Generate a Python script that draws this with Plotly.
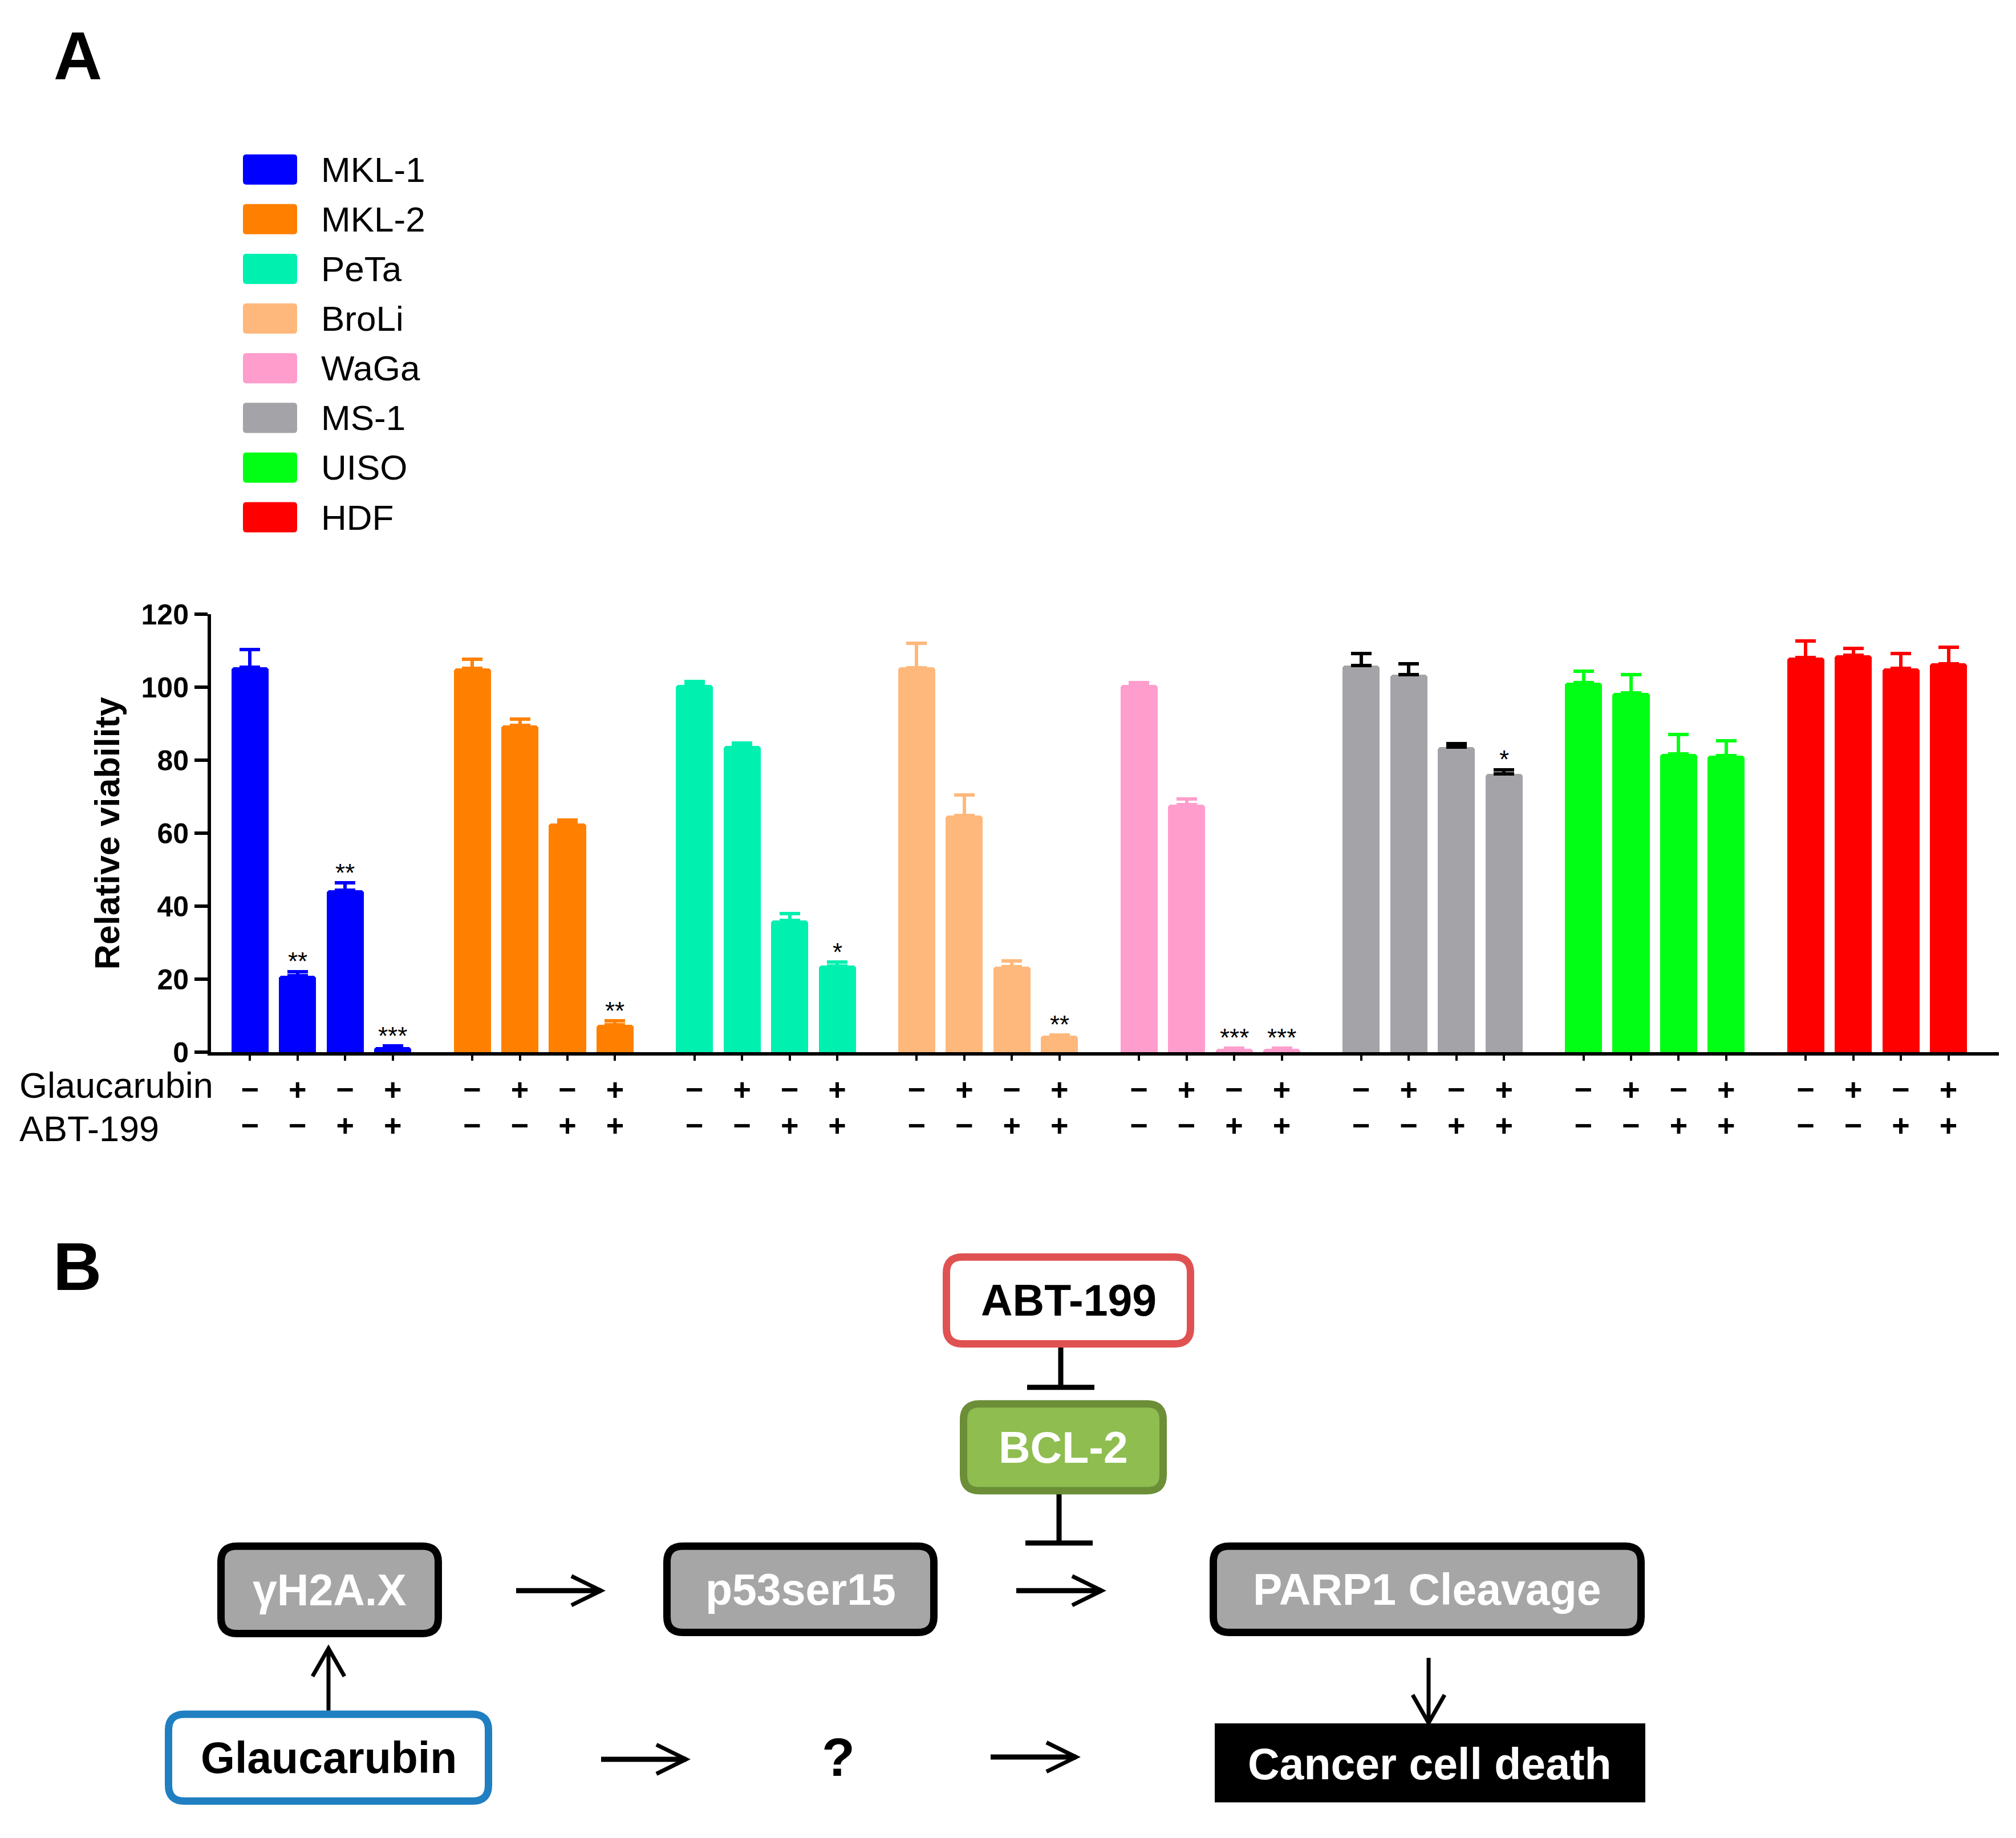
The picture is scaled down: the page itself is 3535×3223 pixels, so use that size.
import plotly.graph_objects as go

# ---------------- data ----------------
cell_lines = ["MKL-1", "MKL-2", "PeTa", "BroLi", "WaGa", "MS-1", "UISO", "HDF"]
glaucarubin = ["−", "+", "−", "+"]
abt199 = ["−", "−", "+", "+"]
y_ticks = [0, 20, 40, 60, 80, 100, 120]

mkl1 = [105.5, 21.0, 44.4, 1.4]
mkl2 = [105.1, 89.5, 62.7, 7.5]
peta = [100.6, 83.9, 36.1, 23.7]
broli = [105.4, 64.9, 23.4, 4.5]
waga = [100.6, 67.9, 1.0, 1.0]
ms1 = [106.0, 103.5, 83.6, 76.3]
uiso = [101.3, 98.4, 81.7, 81.2]
hdf = [108.1, 108.8, 105.1, 106.5]

mkl1_err = [4.8, 1.1, 2.0, 0.3]
mkl2_err = [2.5, 1.8, 0.9, 1.1]
peta_err = [1.0, 0.8, 1.9, 1.0]
broli_err = [6.7, 5.6, 1.7, 0.3]
waga_err = [0.7, 1.5, 0.2, 0.2]
ms1_err = [3.2, 3.0, 1.0, 1.1]
uiso_err = [3.1, 5.1, 5.4, 4.2]
hdf_err = [4.5, 1.8, 4.2, 4.5]

mkl1_sig = ["", "**", "**", "***"]
mkl2_sig = ["", "", "", "**"]
peta_sig = ["", "", "", "*"]
broli_sig = ["", "", "", "**"]
waga_sig = ["", "", "***", "***"]
ms1_sig = ["", "", "", "*"]
uiso_sig = ["", "", "", ""]
hdf_sig = ["", "", "", ""]

means = [mkl1, mkl2, peta, broli, waga, ms1, uiso, hdf]
errors = [mkl1_err, mkl2_err, peta_err, broli_err, waga_err, ms1_err, uiso_err, hdf_err]
sigs = [mkl1_sig, mkl2_sig, peta_sig, broli_sig, waga_sig, ms1_sig, uiso_sig, hdf_sig]

# ---------------- styles ----------------
bar_colors = ["#0000ff", "#ff8000", "#00f0b0", "#ffb87b", "#ff9ecd", "#a4a3a8", "#00ff14", "#ff0000"]
err_colors = ["#0000ff", "#ff8000", "#00f0b0", "#ffb87b", "#ff9ecd", "#000000", "#00ff14", "#ff0000"]

ARIAL = "Arial, Liberation Sans, sans-serif"
W, H = 3535, 3223
X_LEFT, X_RIGHT = 370, 3505          # px of plot area
Y_ZERO, Y_TOP = 1850, 1068           # px of y=0 and y=120
GROUP_PITCH = 4.67
BAR_W = 0.78

fig = go.Figure()
all_x, all_glau, all_abt = [], [], []
for g, (name, vals, errs, sig) in enumerate(zip(cell_lines, means, errors, sigs)):
    xs = [g * GROUP_PITCH + i for i in range(len(vals))]
    all_x += xs
    all_glau += glaucarubin
    all_abt += abt199
    fig.add_trace(go.Bar(
        x=xs, y=vals, width=BAR_W, name=name, showlegend=False,
        marker=dict(color=bar_colors[g], line_width=0, cornerradius=5),
        error_y=dict(type="data", array=errs, symmetric=False,
                     arrayminus=[0] * len(errs), color=err_colors[g],
                     thickness=6, width=18),
    ))
    for x, v, e, s in zip(xs, vals, errs, sig):
        if s:
            fig.add_annotation(x=x, y=v + e, xref="x", yref="y", text=s, showarrow=False,
                               yanchor="middle", yshift=18,
                               font=dict(size=44, color="black", family=ARIAL))

# dummy invisible trace for the second tick-label row axis
fig.add_trace(go.Scatter(x=[all_x[0]], y=[0], xaxis="x3", yaxis="y", mode="markers",
                         marker=dict(opacity=0), hoverinfo="skip", showlegend=False))
# dummy invisible trace for the full-page overlay axes
fig.add_trace(go.Scatter(x=[0], y=[0], xaxis="x2", yaxis="y2", mode="markers",
                         marker=dict(opacity=0), hoverinfo="skip", showlegend=False))

x_dom = [X_LEFT / W, X_RIGHT / W]
y_dom = [1 - Y_ZERO / H, 1 - Y_TOP / H]
x_range = [-0.82, (len(cell_lines) - 1) * GROUP_PITCH + 3 + 1.06]

fig.update_layout(
    width=W, height=H, margin=dict(l=0, r=0, t=0, b=0),
    paper_bgcolor="white", plot_bgcolor="rgba(0,0,0,0)",
    barmode="overlay", bargap=0,
    xaxis=dict(domain=x_dom, range=x_range, anchor="y",
               showline=True, linewidth=6, linecolor="black",
               ticks="outside", ticklen=9, tickwidth=4, tickcolor="black",
               tickvals=all_x, ticktext=all_glau,
               tickfont=dict(size=54, color="black", family=ARIAL, weight="bold"),
               ticklabelstandoff=4,
               showgrid=False, zeroline=False),
    xaxis3=dict(domain=x_dom, range=x_range, anchor="y", overlaying="x", side="bottom",
                showline=False, ticks="", tickvals=all_x, ticktext=all_abt,
                tickfont=dict(size=54, color="black", family=ARIAL, weight="bold"),
                ticklabelstandoff=92,
                showgrid=False, zeroline=False),
    yaxis=dict(domain=y_dom, range=[0, 120], anchor="x",
               showline=True, linewidth=6, linecolor="black",
               ticks="outside", ticklen=23, tickwidth=6, tickcolor="black",
               tickvals=y_ticks,
               tickfont=dict(size=50, color="black", family=ARIAL, weight="bold"),
               showgrid=False, zeroline=False,
               title=dict(text="Relative viability", standoff=20,
                          font=dict(size=61, color="black", family=ARIAL, weight="bold"))),
    xaxis2=dict(domain=[0, 1], range=[0, W], anchor="y2", visible=False, fixedrange=True),
    yaxis2=dict(domain=[0, 1], range=[H, 0], anchor="x2", visible=False, fixedrange=True),
)

# ---------------- page annotations (pixel space via x2/y2) ----------------
def txt(x, y, text, size, color="black", bold=False, xanchor="center", family=ARIAL):
    fig.add_annotation(x=x, y=y, xref="x2", yref="y2", text=text, showarrow=False,
                       xanchor=xanchor, yanchor="middle",
                       font=dict(size=size, color=color, family=family,
                                 weight="bold" if bold else "normal"))

def rrect(x0, y0, x1, y1, r):
    return (f"M{x0 + r},{y0} L{x1 - r},{y0} Q{x1},{y0} {x1},{y0 + r} "
            f"L{x1},{y1 - r} Q{x1},{y1} {x1 - r},{y1} L{x0 + r},{y1} "
            f"Q{x0},{y1} {x0},{y1 - r} L{x0},{y0 + r} Q{x0},{y0} {x0 + r},{y0} Z")

# panel letters
txt(136, 71, "A", 118, bold=True)
txt(135, 2232, "B", 118, bold=True)

# legend
for i, name in enumerate(cell_lines):
    cy = 274 + 88.7 * i
    fig.add_shape(type="path", xref="x2", yref="y2",
                  path=rrect(426, cy - 27, 521, cy + 27, 6),
                  fillcolor=bar_colors[i], line=dict(width=0))
    txt(561, cy, name, 62, xanchor="left")

# treatment row labels
txt(32, 1909, "Glaucarubin", 63, xanchor="left")
txt(32, 1986, "ABT-199", 63, xanchor="left")

# ---------------- panel B diagram ----------------
boxes = [
    ("ABT-199", 1653, 2209, 2094, 2377, "white", "#e05252", "black"),
    ("BCL-2", 1683, 2471, 2046, 2639, "#8fbd50", "#6b8e37", "white"),
    ("γH2A.X", 381, 2725, 775, 2894, "#a6a6a6", "black", "white"),
    ("p53ser15", 1163, 2725, 1644, 2892, "#a6a6a6", "black", "white"),
    ("PARP1 Cleavage", 2121, 2725, 2884, 2892, "#a6a6a6", "black", "white"),
    ("Glaucarubin", 289, 3025, 863, 3193, "white", "#1f7fc1", "black"),
]
LW = 13
for text, x0, y0, x1, y1, fill, edge, tc in boxes:
    h = LW / 2
    fig.add_shape(type="path", xref="x2", yref="y2",
                  path=rrect(x0 + h, y0 + h, x1 - h, y1 - h, 28),
                  fillcolor=fill, line=dict(color=edge, width=LW))
    txt((x0 + x1) / 2, (y0 + y1) / 2, text, 77, color=tc, bold=True)

# Cancer cell death (square black box)
fig.add_shape(type="rect", xref="x2", yref="y2", x0=2130, y0=3048, x1=2885, y1=3189,
              fillcolor="black", line=dict(width=0))
txt(2507, 3120, "Cancer cell death", 77, color="white", bold=True)

# question mark
txt(1470, 3108, "?", 95, bold=True)

# inhibition T-bars
for sx, sy0, sy1, bx0, bx1 in [(1860, 2377, 2448, 1801, 1919), (1857, 2639, 2726, 1798, 1916)]:
    fig.add_shape(type="line", xref="x2", yref="y2", x0=sx, y0=sy0, x1=sx, y1=sy1,
                  line=dict(color="black", width=9))
    fig.add_shape(type="line", xref="x2", yref="y2", x0=bx0, y0=sy1, x1=bx1, y1=sy1,
                  line=dict(color="black", width=9))

# arrows (open heads)
arrows = [
    (905, 2811, 1054, 2811),
    (1782, 2811, 1932, 2811),
    (1054, 3112, 1203, 3112),
    (1737, 3108, 1887, 3108),
    (576, 3025, 576, 2914),
    (2505, 2931, 2505, 3047),
]
for x0, y0, x1, y1 in arrows:
    fig.add_shape(type="line", xref="x2", yref="y2", x0=x0, y0=y0, x1=x1, y1=y1,
                  line=dict(color="black", width=9 if y0 == y1 else 7))
    if y0 == y1:
        d = 1 if x1 > x0 else -1
        p = f"M{x1 - d * 52},{y1 - 26} L{x1},{y1} L{x1 - d * 52},{y1 + 26}"
    else:
        d = 1 if y1 > y0 else -1
        p = f"M{x1 - 28},{y1 - d * 50} L{x1},{y1} L{x1 + 28},{y1 - d * 50}"
    fig.add_shape(type="path", xref="x2", yref="y2", path=p,
                  line=dict(color="black", width=7))

fig.write_html("out.html", config={"displayModeBar": False},
               post_script="document.body.style.margin='0';document.body.style.overflow='hidden';")
